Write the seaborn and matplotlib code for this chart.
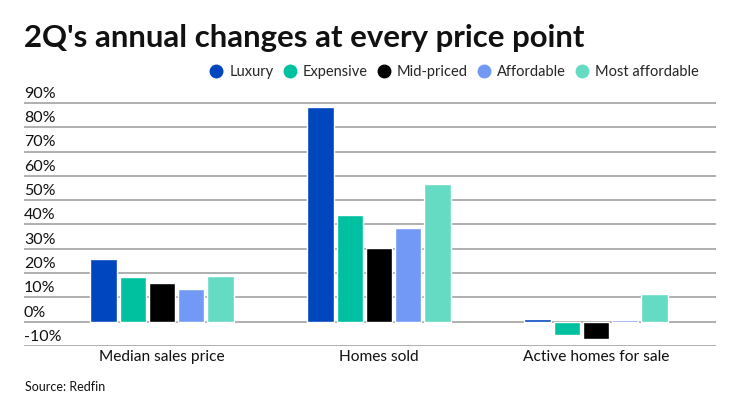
import matplotlib
matplotlib.use("Agg")
import matplotlib.pyplot as plt
import seaborn as sns
import pandas as pd
from matplotlib.lines import Line2D

categories = ["Median sales price", "Homes sold", "Active homes for sale"]
tiers = ["Luxury", "Expensive", "Mid-priced", "Affordable", "Most affordable"]
luxury = [25.6, 88.3, 1.2]
expensive = [18.2, 43.9, -5.4]
mid_priced = [16.0, 30.4, -7.2]
affordable = [13.3, 38.4, 0.6]
most_affordable = [18.8, 56.7, 11.3]
yticks = [-10, 0, 10, 20, 30, 40, 50, 60, 70, 80, 90]
colors = ["#0046BE", "#00C19F", "#000000", "#7399F7", "#66DBC4"]

rows = []
for tier, vals in zip(tiers, [luxury, expensive, mid_priced, affordable, most_affordable]):
    for c, v in zip(categories, vals):
        rows.append({"category": c, "tier": tier, "value": v})
df = pd.DataFrame(rows)

sns.set_style("white")
plt.rcParams["font.family"] = ["Lato", "DejaVu Sans"]

fig = plt.figure(figsize=(7.4, 4.16), dpi=100)
ax = fig.add_axes([24/740, 1-346/416, (716-24)/740, (346-100)/416])

sns.barplot(data=df, x="category", y="value", hue="tier", order=categories,
            hue_order=tiers, palette=colors, width=0.675, gap=0.1,
            saturation=1, legend=False, ax=ax, zorder=3)

ax.set_xlim(-0.636, 2.553)
ax.set_ylim(-10, 91.2)
ax.set_yticks(yticks)
ax.set_yticklabels([])
ax.tick_params(axis="y", length=0)
ax.tick_params(axis="x", length=0, labelsize=11.2, pad=3, colors="#111111")
for t in yticks:
    ax.axhline(t, color="#9a9a9a", lw=1.1, zorder=1)
    ax.annotate(f"{t}%", xy=(0, t), xycoords=("axes fraction", "data"),
                xytext=(0, 1.5), textcoords="offset points",
                ha="left", va="bottom", fontsize=11.5, color="#111111")
for s in ax.spines.values():
    s.set_visible(False)
ax.set_xlabel("")
ax.set_ylabel("")

fig.text(24/740, 1-38/416, "2Q's annual changes at every price point",
         fontsize=22.4, fontweight="bold", ha="left", va="center", color="#111111")

handles = [Line2D([0], [0], marker="o", color="none", markerfacecolor=c,
                  markeredgecolor=c, markersize=9) for c in colors]
fig.legend(handles, tiers, loc="center right", bbox_to_anchor=(699/740, 1-72/416),
           ncol=5, frameon=False, fontsize=10.5, handletextpad=0.3,
           columnspacing=0.5, handlelength=1.2, borderaxespad=0, borderpad=0)

fig.text(25/740, 1-387/416, "Source: Redfin", fontsize=9, ha="left", va="center",
         color="#111111")

fig.savefig("out.png", dpi=100)
